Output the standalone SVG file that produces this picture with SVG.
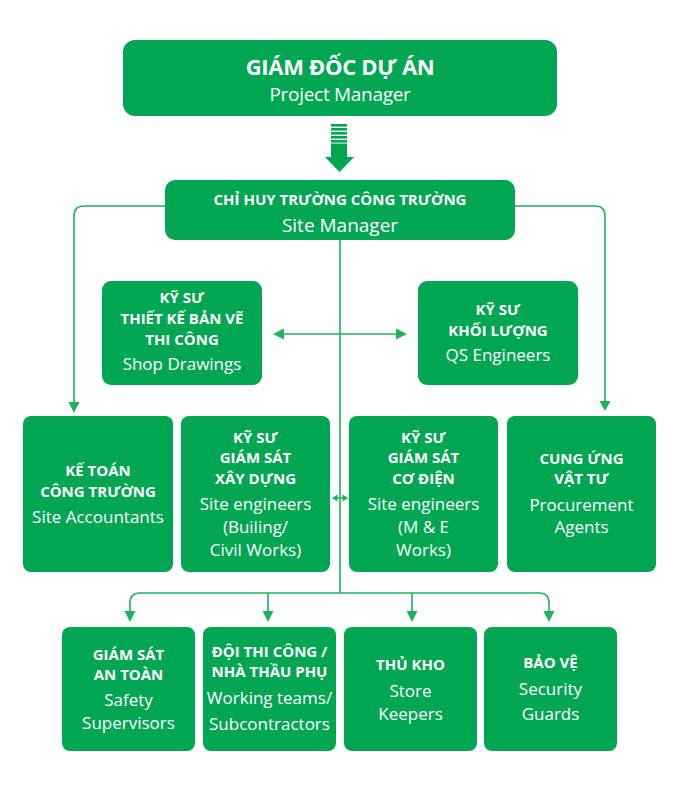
<svg xmlns="http://www.w3.org/2000/svg" width="676" height="806" viewBox="0 0 676 806">
<defs>
<style>
.box{fill:#00a651;}
.t{font-family:"Open Sans","Noto Sans","DejaVu Sans",sans-serif;fill:#fff;text-anchor:middle;}
.b{font-weight:bold;font-size:15px;}
.r{font-size:17px;}
.ln{fill:none;stroke:#1db35c;stroke-width:1.6;}
.ah{fill:#1db35c;}
</style>
</defs>
<rect width="676" height="806" fill="#fff"/>

<g id="connectors">
<path class="ln" d="M165,206 H84 Q74,206 74,216 V404"/>
<polygon class="ah" points="68.5,402 79.5,402 74,413"/>
<path class="ln" d="M515,206 H595 Q605,206 605,216 V402"/>
<polygon class="ah" points="599.5,401 610.5,401 605,411"/>
<path class="ln" d="M340,240 V593"/>
<path class="ln" d="M130,613 V603 Q130,593 140,593 H539 Q549,593 549,603 V613"/>
<path class="ln" d="M268,593 V613 M412,593 V613"/>
<polygon class="ah" points="124.5,611 135.5,611 130,622"/>
<polygon class="ah" points="262.5,611 273.5,611 268,622"/>
<polygon class="ah" points="406.5,611 417.5,611 412,622"/>
<polygon class="ah" points="543.5,611 554.5,611 549,622"/>
<path class="ln" d="M280,334 H400"/>
<polygon class="ah" points="273,334 284,328.5 284,339.5"/>
<polygon class="ah" points="407,334 396,328.5 396,339.5"/>
<path class="ln" d="M335,498 H345"/>
<polygon class="ah" points="332,498 337.5,494.5 337.5,501.5"/>
<polygon class="ah" points="348,498 342.5,494.5 342.5,501.5"/>
<g id="arrow-main" fill="#00a651">
<rect x="331" y="124" width="16" height="2.6"/>
<rect x="331" y="128" width="16" height="2.6"/>
<rect x="331" y="132" width="16" height="2.6"/>
<rect x="331" y="136" width="16" height="2.6"/>
<rect x="331" y="140" width="16" height="2.6"/>
<rect x="331" y="143.5" width="16" height="14"/>
<polygon points="325,157 354,157 339.5,172"/>
</g>
</g>

<g id="project-manager">
<rect class="box" x="123" y="40" width="434" height="76" rx="12"/>
<text class="t" x="340" y="75" style="font-weight:bold;font-size:22px;letter-spacing:-0.3px">GIÁM ĐỐC DỰ ÁN</text>
<text class="t" x="340" y="101" style="font-size:19px;letter-spacing:-0.3px">Project Manager</text>
</g>

<g id="site-manager">
<rect class="box" x="165" y="180" width="350" height="60" rx="10"/>
<text class="t b" x="340" y="205">CHỈ HUY TRƯỜNG CÔNG TRƯỜNG</text>
<text class="t" x="340" y="232" style="font-size:19px">Site Manager</text>
</g>

<g id="shop-drawings">
<rect class="box" x="102" y="281" width="160" height="104" rx="9"/>
<text class="t b" x="182" y="303">KỸ SƯ</text>
<text class="t b" x="182" y="324">THIẾT KẾ BẢN VẼ</text>
<text class="t b" x="182" y="345">THI CÔNG</text>
<text class="t r" x="182" y="370">Shop Drawings</text>
</g>

<g id="qs-engineers">
<rect class="box" x="418" y="281" width="160" height="104" rx="9"/>
<text class="t b" x="498" y="315">KỸ SƯ</text>
<text class="t b" x="498" y="336">KHỐI LƯỢNG</text>
<text class="t r" x="498" y="361">QS Engineers</text>
</g>

<g id="site-accountants">
<rect class="box" x="23" y="416" width="150" height="156" rx="8"/>
<text class="t b" x="98" y="476">KẾ TOÁN</text>
<text class="t b" x="98" y="497">CÔNG TRƯỜNG</text>
<text class="t r" x="98" y="523">Site Accountants</text>
</g>

<g id="civil-engineers">
<rect class="box" x="181" y="416" width="149" height="156" rx="8"/>
<text class="t b" x="255.5" y="443">KỸ SƯ</text>
<text class="t b" x="255.5" y="463">GIÁM SÁT</text>
<text class="t b" x="255.5" y="484">XÂY DỰNG</text>
<text class="t r" x="255.5" y="510">Site engineers</text>
<text class="t r" x="255.5" y="533">(Builing/</text>
<text class="t r" x="255.5" y="556">Civil Works)</text>
</g>

<g id="me-engineers">
<rect class="box" x="349" y="416" width="149" height="156" rx="8"/>
<text class="t b" x="423.5" y="443">KỸ SƯ</text>
<text class="t b" x="423.5" y="463">GIÁM SÁT</text>
<text class="t b" x="423.5" y="484">CƠ ĐIỆN</text>
<text class="t r" x="423.5" y="510">Site engineers</text>
<text class="t r" x="423.5" y="533">(M &amp; E</text>
<text class="t r" x="423.5" y="556">Works)</text>
</g>

<g id="procurement">
<rect class="box" x="507" y="416" width="149" height="156" rx="8"/>
<text class="t b" x="581.5" y="464">CUNG ỨNG</text>
<text class="t b" x="581.5" y="484">VẬT TƯ</text>
<text class="t r" x="581.5" y="511">Procurement</text>
<text class="t r" x="581.5" y="533">Agents</text>
</g>

<g id="safety">
<rect class="box" x="62" y="627" width="133" height="124" rx="8"/>
<text class="t b" x="128.5" y="660">GIÁM SÁT</text>
<text class="t b" x="128.5" y="680">AN TOÀN</text>
<text class="t r" x="128.5" y="706">Safety</text>
<text class="t r" x="128.5" y="729">Supervisors</text>
</g>

<g id="working-teams">
<rect class="box" x="203" y="627" width="133" height="124" rx="8"/>
<text class="t b" x="269.5" y="657">ĐỘI THI CÔNG /</text>
<text class="t b" x="269.5" y="677">NHÀ THẦU PHỤ</text>
<text class="t r" x="269.5" y="704">Working teams/</text>
<text class="t r" x="269.5" y="730">Subcontractors</text>
</g>

<g id="store-keepers">
<rect class="box" x="344" y="627" width="133" height="124" rx="8"/>
<text class="t b" x="410.5" y="670">THỦ KHO</text>
<text class="t r" x="410.5" y="697">Store</text>
<text class="t r" x="410.5" y="720">Keepers</text>
</g>

<g id="security">
<rect class="box" x="484" y="627" width="133" height="124" rx="8"/>
<text class="t b" x="550.5" y="668">BẢO VỆ</text>
<text class="t r" x="550.5" y="695">Security</text>
<text class="t r" x="550.5" y="720">Guards</text>
</g>
</svg>
